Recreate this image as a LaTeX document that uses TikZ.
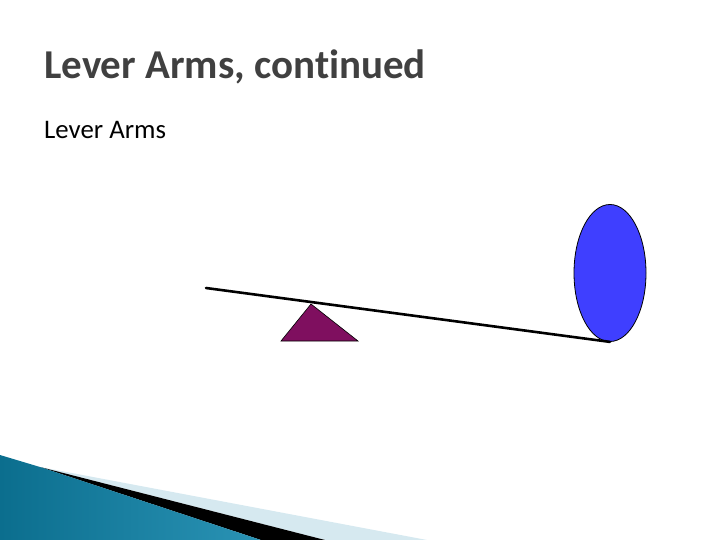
\documentclass[tikz,border=0pt]{standalone}
\usepackage{fontspec}
\setmainfont[Ligatures=NoCommon]{Carlito}
\usetikzlibrary{shapes.geometric}

\definecolor{titlegray}{HTML}{404040}
\definecolor{fulcrum}{HTML}{7F0F5F}
\definecolor{weight}{HTML}{3F3FFF}
\definecolor{paleblue}{HTML}{D6E9F0}
\definecolor{tealdark}{HTML}{0B6E8E}
\definecolor{teallight}{HTML}{56BEE0}
\definecolor{tealmid}{HTML}{2A93B5}

\begin{document}
\begin{tikzpicture}[x=1pt,y=-1pt,
  title/.style={anchor=base west,inner sep=0pt,text=titlegray,
    font=\fontsize{41}{48}\selectfont\bfseries},
  body/.style={anchor=base west,inner sep=0pt,
    font=\fontsize{26.8}{32}\selectfont},
  lever/.style={line width=2.6pt,line cap=round}]
  \useasboundingbox (0,0) rectangle (720,540);
  % corner decoration
  \fill[paleblue] (40,467) -- (427,540) -- (325,540) -- cycle;
  \fill[black] (40,467) -- (325,540) -- (261,540) -- cycle;
  \shade[left color=tealdark,middle color=teallight,right color=tealmid]
    (0,455) -- (40,467) -- (261,540) -- (0,540) -- cycle;
  % text
  \node[title] (head) at (44,79) {Lever Arms, continued};
  \node[body] (sub) at (44,139) {Lever Arms};
  % seesaw
  \node[draw=black,fill=weight,ellipse,minimum width=72pt,minimum height=137pt,
    inner sep=0pt,line width=0.8pt] (ball) at (610,273) {};
  \coordinate (lend) at (206,288);
  \draw[lever] (lend) -- (ball.south);
  \fill[fulcrum,draw=black,line width=0.6pt] (311,304) -- (358,341) -- (281,341) -- cycle;
\end{tikzpicture}
\end{document}
